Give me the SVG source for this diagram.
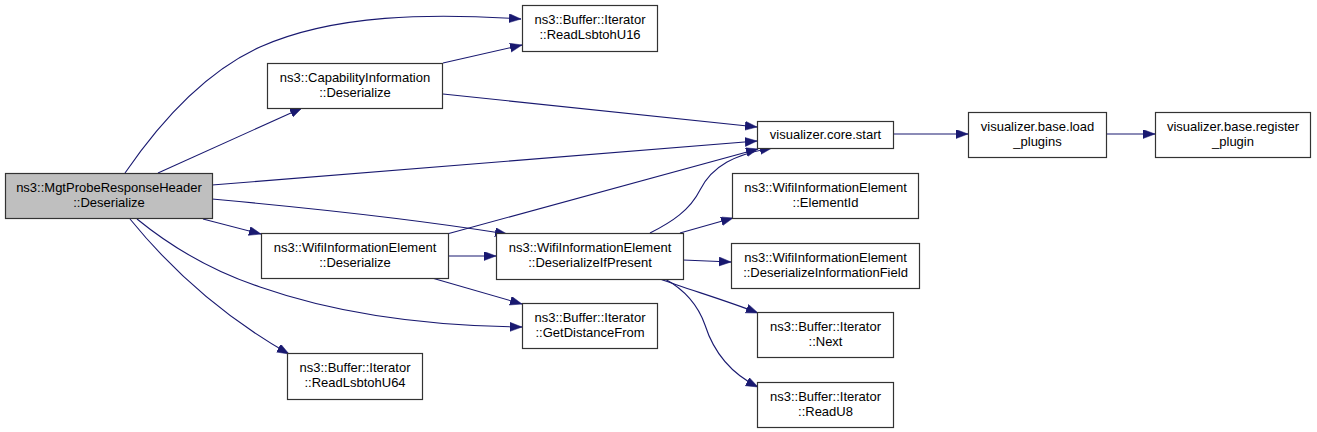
<svg xmlns="http://www.w3.org/2000/svg" width="1317" height="432" viewBox="0 0 1317 432">
<style>
  .box { fill: #ffffff; stroke: #333333; stroke-width: 1.2; }
  .root { fill: #bfbfbf; stroke: #333333; stroke-width: 1.2; }
  .lbl { font-family: "Liberation Sans", Arial, sans-serif; font-size: 13px; fill: #000000; text-anchor: middle; }
  .edge { fill: none; stroke: #191970; stroke-width: 1.1; marker-end: url(#arr); }
</style>
<defs>
  <marker id="arr" markerUnits="userSpaceOnUse" markerWidth="13" markerHeight="10" refX="12" refY="4.5" orient="auto">
    <path d="M0,0 L12,4.5 L0,9 z" fill="#191970" stroke="#191970" stroke-width="0.5"/>
  </marker>
</defs>
<rect width="1317" height="432" fill="#ffffff"/>

<g id="edges">
  <path class="edge" d="M125,173 C160,122 205,72 260,47 C334,14 432,13 521,19"/>
  <path class="edge" d="M158,173 L302,108"/>
  <path class="edge" d="M212,185 L757,141"/>
  <path class="edge" d="M212,199 C300,207 420,220 507,234"/>
  <path class="edge" d="M203,219 L261,234"/>
  <path class="edge" d="M137,219 C175,250 215,272 260,287 C340,315 430,326 522,327"/>
  <path class="edge" d="M130,219 C165,262 215,312 289,354"/>
  <path class="edge" d="M443,63 L522,45"/>
  <path class="edge" d="M443,94 L757,127"/>
  <path class="edge" d="M447,234 L758,149"/>
  <path class="edge" d="M448,256 L496,256"/>
  <path class="edge" d="M432,278 L522,304"/>
  <path class="edge" d="M650,233 C672,222 690,210 700,190 C712,166 735,154 772,148"/>
  <path class="edge" d="M680,233 L733,218"/>
  <path class="edge" d="M683,260 L731,262"/>
  <path class="edge" d="M660,279 C690,290 725,300 758,313"/>
  <path class="edge" d="M665,279 C685,290 698,305 705,325 C713,350 728,372 758,387"/>
  <path class="edge" d="M893,134 L968,134"/>
  <path class="edge" d="M1106,134 L1155,134"/>
</g>

<g id="n_mgt">
  <rect class="root" x="5.5" y="173.5" width="207" height="45"/>
  <text class="lbl" x="109" y="192">ns3::MgtProbeResponseHeader</text>
  <text class="lbl" x="109" y="207">::Deserialize</text>
</g>
<g id="n_readu16">
  <rect class="box" x="522.5" y="5.5" width="135" height="46"/>
  <text class="lbl" x="590" y="24">ns3::Buffer::Iterator</text>
  <text class="lbl" x="590" y="39">::ReadLsbtohU16</text>
</g>
<g id="n_capinfo">
  <rect class="box" x="267.5" y="63.5" width="175" height="45"/>
  <text class="lbl" x="355" y="82">ns3::CapabilityInformation</text>
  <text class="lbl" x="355" y="97">::Deserialize</text>
</g>
<g id="n_wiedeser">
  <rect class="box" x="261.5" y="233.5" width="187" height="45"/>
  <text class="lbl" x="355" y="252">ns3::WifiInformationElement</text>
  <text class="lbl" x="355" y="267">::Deserialize</text>
</g>
<g id="n_wieifpresent">
  <rect class="box" x="496.5" y="233.5" width="187" height="46"/>
  <text class="lbl" x="590" y="252">ns3::WifiInformationElement</text>
  <text class="lbl" x="590" y="267">::DeserializeIfPresent</text>
</g>
<g id="n_getdist">
  <rect class="box" x="522.5" y="303.5" width="135" height="45"/>
  <text class="lbl" x="590" y="322">ns3::Buffer::Iterator</text>
  <text class="lbl" x="590" y="337">::GetDistanceFrom</text>
</g>
<g id="n_readu64">
  <rect class="box" x="287.5" y="353.5" width="135" height="46"/>
  <text class="lbl" x="355" y="372">ns3::Buffer::Iterator</text>
  <text class="lbl" x="355" y="387">::ReadLsbtohU64</text>
</g>
<g id="n_corestart">
  <rect class="box" x="757.5" y="121.5" width="136" height="27"/>
  <text class="lbl" x="825.5" y="139">visualizer.core.start</text>
</g>
<g id="n_elementid">
  <rect class="box" x="732.5" y="173.5" width="186" height="45"/>
  <text class="lbl" x="825.5" y="192">ns3::WifiInformationElement</text>
  <text class="lbl" x="825.5" y="207">::ElementId</text>
</g>
<g id="n_deserinfo">
  <rect class="box" x="731.5" y="243.5" width="188" height="45"/>
  <text class="lbl" x="825.5" y="262">ns3::WifiInformationElement</text>
  <text class="lbl" x="825.5" y="277">::DeserializeInformationField</text>
</g>
<g id="n_next">
  <rect class="box" x="757.5" y="312.5" width="136" height="45"/>
  <text class="lbl" x="825.5" y="331">ns3::Buffer::Iterator</text>
  <text class="lbl" x="825.5" y="346">::Next</text>
</g>
<g id="n_readu8">
  <rect class="box" x="757.5" y="382.5" width="136" height="45"/>
  <text class="lbl" x="825.5" y="401">ns3::Buffer::Iterator</text>
  <text class="lbl" x="825.5" y="416">::ReadU8</text>
</g>
<g id="n_loadplugins">
  <rect class="box" x="968.5" y="112.5" width="138" height="45"/>
  <text class="lbl" x="1037.5" y="131">visualizer.base.load</text>
  <text class="lbl" x="1037.5" y="146">_plugins</text>
</g>
<g id="n_registerplugin">
  <rect class="box" x="1155.5" y="112.5" width="155" height="45"/>
  <text class="lbl" x="1233" y="131">visualizer.base.register</text>
  <text class="lbl" x="1233" y="146">_plugin</text>
</g>
</svg>
